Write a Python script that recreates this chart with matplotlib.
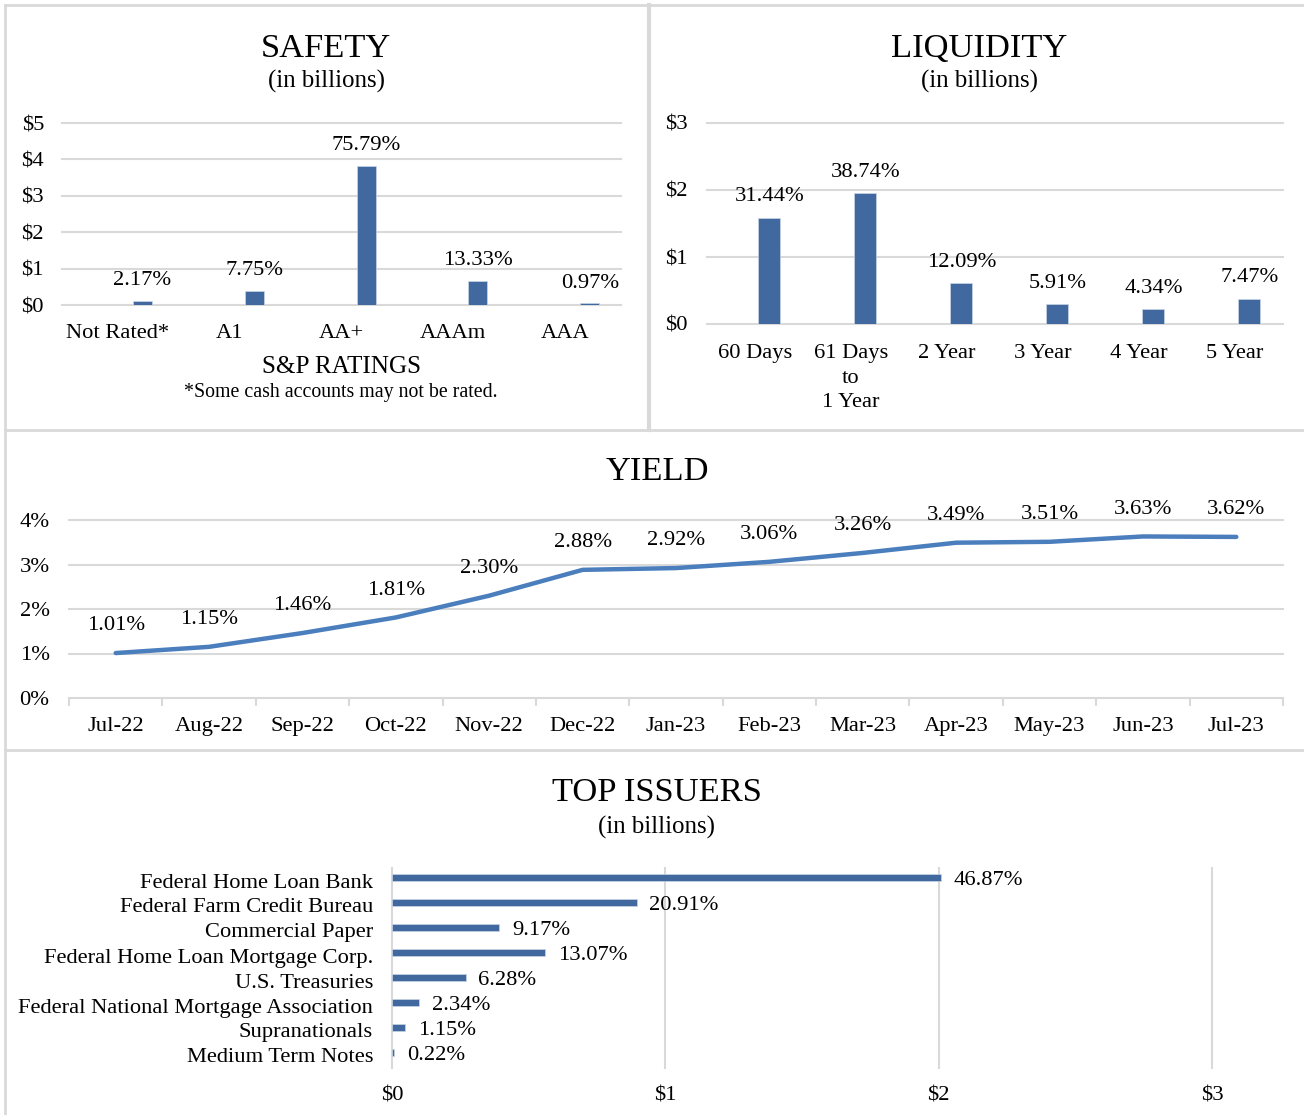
import numpy as np
import matplotlib
matplotlib.use("Agg")
import matplotlib.pyplot as plt
from matplotlib.lines import Line2D

plt.rcParams['font.family'] = ['Liberation Serif', 'DejaVu Serif']

# ---- data ----
safety_cats = ["Not Rated*", "A1", "AA+", "AAAm", "AAA"]
safety_vals = [0.109, 0.390, 3.820, 0.672, 0.049]
safety_pct = ["2.17%", "7.75%", "75.79%", "13.33%", "0.97%"]

liq_cats = ["60 Days", "61 Days\nto\n1 Year", "2 Year", "3 Year", "4 Year", "5 Year"]
liq_vals = [1.588, 1.955, 0.610, 0.298, 0.219, 0.377]
liq_pct = ["31.44%", "38.74%", "12.09%", "5.91%", "4.34%", "7.47%"]

months = ["Jul-22", "Aug-22", "Sep-22", "Oct-22", "Nov-22", "Dec-22", "Jan-23",
          "Feb-23", "Mar-23", "Apr-23", "May-23", "Jun-23", "Jul-23"]
yields = [1.01, 1.15, 1.46, 1.81, 2.30, 2.88, 2.92, 3.06, 3.26, 3.49, 3.51, 3.63, 3.62]

issuers = ["Federal Home Loan Bank", "Federal Farm Credit Bureau", "Commercial Paper",
           "Federal Home Loan Mortgage Corp.", "U.S. Treasuries",
           "Federal National Mortgage Association", "Supranationals", "Medium Term Notes"]
issuer_vals = [2.009, 0.896, 0.393, 0.560, 0.269, 0.100, 0.049, 0.009]
issuer_pct = ["46.87%", "20.91%", "9.17%", "13.07%", "6.28%", "2.34%", "1.15%", "0.22%"]

W, H = 1304, 1115
BAR = '#41699f'
LINE = '#4a7ebd'
GRID = '#d9d9d9'
FS = 16.2
TS = 24.8
SUB = 17.9

fig = plt.figure(figsize=(W / 100, H / 100), dpi=100)


def px_axes(left, top, right, bottom):
    return fig.add_axes([left / W, 1 - bottom / H, (right - left) / W, (bottom - top) / H])


def ftext(x, y, s, size, **kw):
    fig.text(x / W, 1 - y / H, s, fontsize=size, ha='center', va='center', **kw)


def hline(x0, x1, y, lw=2):
    fig.add_artist(Line2D([x0 / W, x1 / W], [1 - y / H, 1 - y / H], color=GRID, lw=lw))


def vline(x, y0, y1, lw=2):
    fig.add_artist(Line2D([x / W, x / W], [1 - y0 / H, 1 - y1 / H], color=GRID, lw=lw))


# panel borders
hline(5, 1304, 5)
hline(5, 1304, 430)
hline(5, 1304, 750)
vline(5, 5, 1115)
vline(648.5, 5, 430, lw=3)


def style_axes(ax):
    for s in ax.spines.values():
        s.set_visible(False)
    ax.set_axisbelow(True)


# ---- SAFETY ----
ftext(326, 49, "SAFETY", TS)
ftext(326, 81, "(in billions)", SUB)
ax = px_axes(62, 123, 621, 305)
style_axes(ax)
x = np.arange(len(safety_cats))
ax.bar(x + 0.22, safety_vals, width=0.17, color=BAR, edgecolor='#c9d5e6', lw=0.5)
for xi, v, p in zip(x, safety_vals, safety_pct):
    ax.annotate(p, (xi + 0.22, v), xytext=(0, 14.5), textcoords='offset points',
                ha='center', va='center', fontsize=FS)
ax.set_xlim(-0.5, len(safety_cats) - 0.5)
ax.set_ylim(0, 5)
ax.set_yticks(range(6))
ax.set_yticklabels([f"${i}" for i in range(6)], fontsize=FS)
ax.set_xticks(x)
ax.set_xticklabels(safety_cats, fontsize=FS)
ax.tick_params(axis='both', length=0)
ax.tick_params(axis='y', pad=13)
ax.tick_params(axis='x', pad=14)
ax.yaxis.grid(True, color=GRID, lw=1.5)
for gl in ax.get_ygridlines():
    gl.set_clip_on(False)
ftext(342, 367, "S&P RATINGS", 18.1)
ftext(341, 392, "*Some cash accounts may not be rated.", 14.3)

# ---- LIQUIDITY ----
ftext(979, 49, "LIQUIDITY", TS)
ftext(979, 81, "(in billions)", SUB)
ax = px_axes(707, 123, 1283, 324)
style_axes(ax)
x = np.arange(len(liq_cats))
ax.bar(x + 0.15, liq_vals, width=0.23, color=BAR, edgecolor='#c9d5e6', lw=0.5)
for xi, v, p in zip(x, liq_vals, liq_pct):
    ax.annotate(p, (xi + 0.15, v), xytext=(0, 15), textcoords='offset points',
                ha='center', va='center', fontsize=FS)
ax.set_xlim(-0.5, len(liq_cats) - 0.5)
ax.set_ylim(0, 3)
ax.set_yticks(range(4))
ax.set_yticklabels([f"${i}" for i in range(4)], fontsize=FS)
ax.set_xticks(x)
ax.set_xticklabels(liq_cats, fontsize=FS, linespacing=1.4, va='top')
ax.tick_params(axis='both', length=0)
ax.tick_params(axis='y', pad=14)
ax.tick_params(axis='x', pad=14.5)
ax.yaxis.grid(True, color=GRID, lw=1.5)
for gl in ax.get_ygridlines():
    gl.set_clip_on(False)

# ---- YIELD ----
ftext(657, 472, "YIELD", TS)
ax = px_axes(69, 520, 1283, 698)
style_axes(ax)
x = np.arange(len(months))
ax.plot(x, yields, color=LINE, lw=3.2, solid_capstyle='round', solid_joinstyle='round', zorder=3)
for xi, v in zip(x, yields):
    ax.annotate(f"{v:.2f}%", (xi, v), xytext=(0, 19.5), textcoords='offset points',
                ha='center', va='center', fontsize=FS)
ax.set_xlim(-0.5, len(months) - 0.5)
ax.set_ylim(0, 4)
ax.set_yticks(range(5))
ax.set_yticklabels([f"{i}%" for i in range(5)], fontsize=FS)
ax.set_xticks(x)
ax.set_xticklabels(months, fontsize=FS)
ax.set_xticks(np.arange(len(months) + 1) - 0.5, minor=True)
ax.tick_params(axis='x', which='major', length=0, pad=13.5)
ax.tick_params(axis='x', which='minor', length=6, width=1.5, color=GRID, direction='out')
ax.tick_params(axis='y', length=0, pad=14)
ax.yaxis.grid(True, color=GRID, lw=1.5)
for gl in ax.get_ygridlines():
    gl.set_clip_on(False)

# ---- TOP ISSUERS ----
ftext(657, 793, "TOP ISSUERS", TS)
ftext(657, 827, "(in billions)", SUB)
ax = px_axes(392, 868, 1212, 1068)
style_axes(ax)
y = np.arange(len(issuers))
ax.barh(y - 0.14, issuer_vals, height=0.28, color=BAR, edgecolor='#c9d5e6', lw=0.5)
for yi, v, p in zip(y, issuer_vals, issuer_pct):
    ax.annotate(p, (v, yi - 0.14), xytext=(9, -2.5), textcoords='offset points',
                ha='left', va='center', fontsize=FS)
ax.set_ylim(len(issuers) - 0.5, -0.5)
ax.set_xlim(0, 3)
ax.set_xticks(range(4))
ax.set_xticklabels([f"${i}" for i in range(4)], fontsize=FS)
ax.set_yticks(y)
ax.set_yticklabels(issuers, fontsize=FS)
ax.tick_params(axis='both', length=0)
ax.tick_params(axis='x', pad=13.5)
ax.tick_params(axis='y', pad=13.5)
ax.xaxis.grid(True, color=GRID, lw=1.5)
for gl in ax.get_xgridlines():
    gl.set_clip_on(False)

fig.savefig("out.png", dpi=100, facecolor='white')
